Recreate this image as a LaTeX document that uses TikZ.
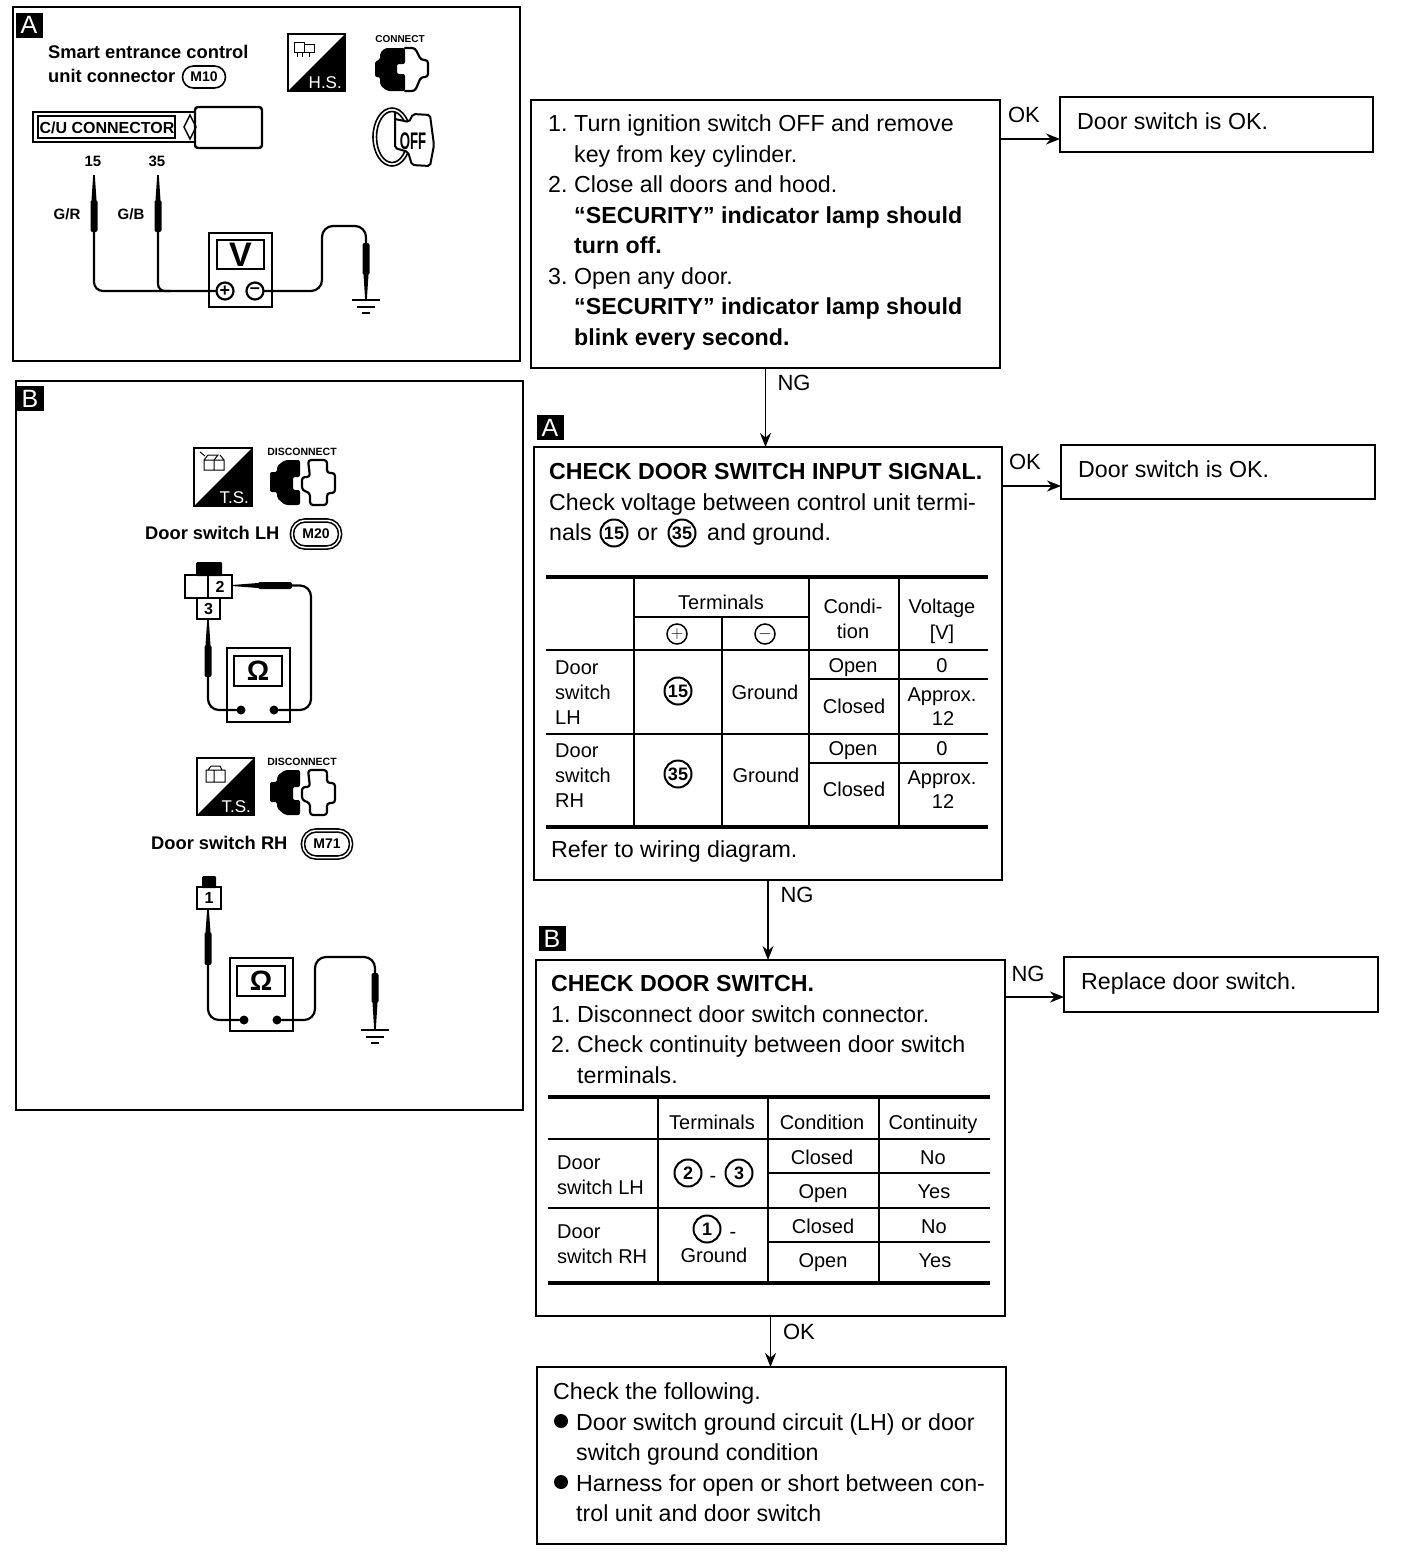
\documentclass[tikz,border=0pt]{standalone}
\usepackage{fontspec}
\setmainfont{Liberation Sans}
\usetikzlibrary{arrows.meta, positioning}
\newcommand{\sz}[1]{\fontsize{#1}{30.5}\selectfont}
\newcommand{\itm}[1]{\makebox[26pt][l]{#1}}
% Pattern icons: half-black connector faces
\newcommand{\connface}[3]{%
  \begin{scope}[shift={(#1,#2)}]
    \fill[rounded corners=2] (5,13) -- (5,6) -- (10,1) -- (30,1) -- (30,17) -- (22,17) -- (22,27) -- (30,27) -- (30,44) -- (12,44) -- (5,38) -- (5,30) -- (0,30) -- (0,14) -- cycle;
    \draw[wire, rounded corners=3] (30,1) -- (40,1) -- (46,13) -- (53,13) -- (53,30) -- (46,30) -- (40,44) -- (30,44);
    \node[font=\sz{10}\bfseries, inner sep=0] (#3) at (25,-8) {CONNECT};
  \end{scope}}
\newcommand{\discface}[3]{%
  \begin{scope}[shift={(#1,#2)}]
    \fill[rounded corners=2] (7,12) -- (7,6) -- (15,0) -- (30,0) -- (30,17) -- (23,17) -- (23,30) -- (30,30) -- (30,45) -- (15,45) -- (7,38) -- (7,32) -- (0,32) -- (0,12) -- cycle;
    \draw[wire, rounded corners=3] (38,0) -- (57,0) -- (57,13) -- (65,13) -- (65,33) -- (57,33) -- (57,45) -- (40,45) -- (40,33) -- (32,30) -- (32,17) -- (40,17) -- cycle;
    \node[font=\sz{10.5}\bfseries, inner sep=0] (#3) at (32,-8) {DISCONNECT};
  \end{scope}}
% Square badge, black lower right half
\newcommand{\badge}[5]{%
  \begin{scope}[shift={(#1,#2)}]
    \draw[line width=1.5] (0,0) rectangle (#3,#3);
    \fill (#3,0) -- (#3,#3) -- (0,#3) -- cycle;
    \node[font=\sz{17}, text=white, inner sep=0, anchor=south east] (#5) at (#3-3,#3-2) {#4};
  \end{scope}}
\newcommand{\probev}[5]{% name, x, end of tip, body end at tip, other body end
  \fill (#2-0.8,#3) -- (#2+0.8,#3) -- (#2+2.5,#4) -- (#2-2.5,#4) -- cycle;
  \node[probe, minimum height={abs(#5-#4)}] (#1) at (#2,#4/2+#5/2) {};}
\newcommand{\groundv}[2]{%
  \draw[line width=2.8] (#1-14,#2) -- (#1+14,#2);
  \draw[line width=2.8] (#1-9,#2+7) -- (#1+9,#2+7);
  \draw[line width=2.8] (#1-4,#2+13) -- (#1+4,#2+13);}
\tikzset{
  wire/.style={line width=2.2, line cap=round, line join=round},
  flowbox/.style={draw, line width=2.4, anchor=north west, inner sep=0, outer sep=0},
  paneltag/.style={fill=black, text=white, font=\sz{25}, inner sep=0, minimum width=27, minimum height=25},
  steptext/.style={anchor=north west, align=left, inner sep=0, font=\sz{23.2}},
  cell/.style={inner sep=0, font=\sz{20}, text height=14.5, text depth=0pt},
  lbl/.style={inner sep=0, font=\sz{22}},
  termno/.style={draw, circle, line width=2, inner sep=0, minimum size=27, font=\sz{18}\bfseries},
  thickrule/.style={line width=4},
  thinrule/.style={line width=2.2},
  meter/.style={draw, line width=2.2, inner sep=0, outer sep=0},
  probe/.style={fill=black, rounded corners=2, inner sep=0, minimum width=7},
  termdot/.style={fill=black, circle, inner sep=0, minimum size=9},
  pmsign/.style={draw, circle, line width=2.2, inner sep=0, minimum size=17, font=\sz{18}\bfseries},
  pill/.style={draw, line width=1.6, rounded corners=11, inner sep=0, font=\sz{14}\bfseries},
  panelhead/.style={inner sep=0, anchor=west, font=\sz{18.3}\bfseries},
  arr/.style={-{Stealth[length=14, width=11]}, line width=1.8},
}
\begin{document}
\begin{tikzpicture}[x=1pt, y=-1pt]
  \useasboundingbox (0,0) rectangle (1408,1558);
  % Flow boxes
  \node[flowbox, minimum width=469, minimum height=268] (checkStart) at (531,100) {};
  \node[flowbox, minimum width=313, minimum height=55] (okStart) at (1060,97) {};
  \node[flowbox, minimum width=468, minimum height=433] (checkSignal) at (534,447) {};
  \node[flowbox, minimum width=314, minimum height=54] (okSignal) at (1061,445) {};
  \node[flowbox, minimum width=469, minimum height=356] (checkSwitch) at (536,960) {};
  \node[flowbox, minimum width=314, minimum height=55] (replace) at (1064,957) {};
  \node[flowbox, minimum width=469, minimum height=177] (following) at (537,1367) {};
  \node[paneltag] (tagA) at (550,427.5) {A};
  \node[paneltag] (tagB) at (552,938.5) {B};
  % Arrows
  \coordinate (rowStart) at (1030,139);
  \coordinate (rowSignal) at (1030,486);
  \coordinate (rowSwitch) at (1030,997);
  \draw[arr] (checkStart.east |- rowStart) -- (okStart.west |- rowStart);
  \draw[arr] (checkSignal.east |- rowSignal) -- (okSignal.west |- rowSignal);
  \draw[arr] (checkSwitch.east |- rowSwitch) -- (replace.west |- rowSwitch);
  \draw[arr] (checkStart.south) -- (checkStart.south |- checkSignal.north);
  \draw[arr] (checkSignal.south) -- (checkSignal.south |- checkSwitch.north);
  \draw[arr] (checkSwitch.south) -- (checkSwitch.south |- following.north);
  \node[lbl] (okLa) at (1024,115) {OK};
  \node[lbl] (ngLa) at (794,383) {NG};
  \node[lbl] (okLb) at (1025,462) {OK};
  \node[lbl] (ngLb) at (797,895) {NG};
  \node[lbl] (ngLc) at (1028,974) {NG};
  \node[lbl] (okLc) at (799,1332) {OK};
  % Box texts
  \node[steptext] (txtStart) at (548,110) {\strut\itm{1.}Turn ignition switch OFF and remove\\
    \hspace*{26pt}key from key cylinder.\\
    \itm{2.}Close all doors and hood.\\
    \hspace*{26pt}\textbf{“SECURITY” indicator lamp should}\\
    \hspace*{26pt}\textbf{turn off.}\\
    \itm{3.}Open any door.\\
    \hspace*{26pt}\textbf{“SECURITY” indicator lamp should}\\
    \hspace*{26pt}\textbf{blink every second.}};
  \node[steptext] (txtOkA) at (1077,108) {\strut Door switch is OK.};
  \node[steptext] (txtOkB) at (1078,456) {\strut Door switch is OK.};
  \node[steptext] (txtReplace) at (1081,968) {\strut Replace door switch.};
  \node[steptext] (txtSignal) at (549,458) {\strut\textbf{CHECK DOOR SWITCH INPUT SIGNAL.}\\
    Check voltage between control unit termi-};
  \node[steptext] (txtNals) at (549,519) {\strut nals};
  \node[termno] (no15a) at (614,533) {15};
  \node[steptext] (txtOr) at (637,519) {\strut or};
  \node[termno] (no35a) at (682,533) {35};
  \node[steptext] (txtGround) at (707,519) {\strut and ground.};
  \node[steptext] (txtRefer) at (551,836) {\strut Refer to wiring diagram.};
  \node[steptext] (txtSwitch) at (551,970) {\strut\textbf{CHECK DOOR SWITCH.}\\
    \itm{1.}Disconnect door switch connector.\\
    \itm{2.}Check continuity between door switch\\
    \hspace*{26pt}terminals.};
  \node[steptext] (txtFollow) at (553,1378) {\strut Check the following.\\
    \hspace*{23pt}Door switch ground circuit (LH) or door\\
    \hspace*{23pt}switch ground condition\\
    \hspace*{23pt}Harness for open or short between con-\\
    \hspace*{23pt}trol unit and door switch};
  \node[fill=black, circle, inner sep=0, minimum size=14] (bulletA) at (561,1421) {};
  \node[fill=black, circle, inner sep=0, minimum size=14] (bulletB) at (561,1482) {};
  % Voltage table
  \draw[thickrule] (546,577) -- (988,577);
  \draw[thickrule] (546,827) -- (988,827);
  \draw[thinrule] (546,650) -- (988,650);
  \draw[thinrule] (546,734) -- (988,734);
  \draw[thinrule] (634,617) -- (809,617);
  \draw[thinrule] (809,679) -- (988,679);
  \draw[thinrule] (809,763) -- (988,763);
  \draw[thinrule] (634,577) -- (634,827);
  \draw[thinrule] (722,617) -- (722,827);
  \draw[thinrule] (809,577) -- (809,827);
  \draw[thinrule] (899,577) -- (899,827);
  \foreach \x/\y/\t in {721/602/Terminals, 853/606/Condi-, 853/631/tion, 942/606/Voltage, 942/632/[V],
      765/692/Ground, 853/665/Open, 942/665/0, 854/706/Closed, 942/694/Approx., 943/718/12,
      766/775/Ground, 853/748/Open, 942/748/0, 854/789/Closed, 942/777/Approx., 943/801/12}
    \node[cell] at (\x,\y) {\t};
  \foreach \y/\t in {667/Door, 692/switch, 717/LH, 750/Door, 775/switch, 800/RH}
    \node[cell, anchor=west] at (555,\y) {\t};
  \node[pmsign, minimum size=20, line width=1.5, font=\sz{18}] (plusHead) at (677,634) {$+$};
  \node[pmsign, minimum size=20, line width=1.5, font=\sz{18}] (minusHead) at (765,634) {$-$};
  \node[termno] (no15b) at (678,691) {15};
  \node[termno] (no35b) at (678,774) {35};
  % Continuity table
  \draw[thickrule] (548,1097) -- (990,1097);
  \draw[thickrule] (548,1283) -- (990,1283);
  \draw[thinrule] (548,1139) -- (990,1139);
  \draw[thinrule] (548,1208) -- (990,1208);
  \draw[thinrule] (768,1173) -- (990,1173);
  \draw[thinrule] (768,1242) -- (990,1242);
  \draw[thinrule] (658,1097) -- (658,1283);
  \draw[thinrule] (768,1097) -- (768,1283);
  \draw[thinrule] (879,1097) -- (879,1283);
  \foreach \x/\y/\t in {712/1122/Terminals, 822/1122/Condition, 933/1122/Continuity,
      822/1157/Closed, 933/1157/No, 823/1191/Open, 934/1191/Yes,
      823/1226/Closed, 934/1226/No, 823/1260/Open, 935/1260/Yes, 714/1255/Ground}
    \node[cell] at (\x,\y) {\t};
  \foreach \y/\t in {1162/Door, 1187/switch LH, 1231/Door, 1256/switch RH}
    \node[cell, anchor=west] at (557,\y) {\t};
  \node[termno] (no2) at (688,1173) {2};
  \node[cell] (dashA) at (713,1175) {-};
  \node[termno] (no3) at (739,1173) {3};
  \node[termno] (no1) at (707,1229) {1};
  \node[cell] (dashB) at (733,1231) {-};
  % Panel A
  \node[flowbox, line width=2, minimum width=507, minimum height=354] (panelA) at (13,7) {};
  \node[paneltag] (tagPanelA) at (29,25) {A};
  \node[panelhead] (headA) at (48,52) {Smart entrance control};
  \node[panelhead] (headB) at (48,76) {unit connector};
  \node[pill, minimum width=43, minimum height=22] (pillM10) at (204,77) {M10};
  \badge{288}{34}{57}{H.S.}{badgeHS}
  \draw[line width=1] (294,42) rectangle (304,52) (304,44) rectangle (314,52) (297,52) -- (297,57) (302,52) -- (302,57) (309,52) -- (309,57);
  \connface{375}{47}{txtConnect}
  % C/U connector
  \node[flowbox, minimum width=165, minimum height=30] (cuBody) at (33,112) {};
  \node[flowbox, rounded corners=3, minimum width=67, minimum height=41, fill=white] (cuHead) at (195,107) {};
  \node[flowbox, line width=1.5, minimum width=137, minimum height=22] (cuLabel) at (38,116) {};
  \node[inner sep=0, font=\sz{16}\bfseries] (txtCu) at (107,127.5) {C/U CONNECTOR};
  \draw[line width=1.5] (190,115) -- (196,127) -- (190,139) -- (184,127) -- cycle;
  % Ignition key
  \draw[line width=1.6] (392,137) ellipse (19 and 29);
  \draw[line width=1.6] (392,137) ellipse (15.5 and 25.5);
  \draw[line width=2, fill=white, rounded corners=2] (395,112) -- (395,148) -- (408,152) -- (412,165) -- (430,166) -- (434,145) -- (430,115) -- (413,114) -- (409,122) -- (395,119);
  \node[inner sep=0, font=\sz{24}\bfseries, xscale=0.55] (txtOff) at (413,141) {OFF};
  % Voltage check
  \node[lbl, font=\sz{15}\bfseries] (no15) at (93,161) {15};
  \node[lbl, font=\sz{15}\bfseries] (no35) at (157,161) {35};
  \node[lbl, font=\sz{15}\bfseries] (txtGR) at (67,214) {G/R};
  \node[lbl, font=\sz{15}\bfseries] (txtGB) at (131,214) {G/B};
  \probev{probeGR}{94}{175}{200}{232}
  \probev{probeGB}{158}{175}{200}{232}
  \probev{probeGndA}{366}{300}{275}{243}
  \node[meter, anchor=north west, minimum width=63, minimum height=74] (meterA) at (209,233) {};
  \node[meter, anchor=north west, minimum width=47, minimum height=29, font=\sz{34}\bfseries] (screenA) at (217,240) {V};
  \node[pmsign] (plusA) at (225,291) {+};
  \node[pmsign] (minusA) at (255,291) {–};
  \draw[wire, rounded corners=9] (probeGR.south) |- (plusA.west);
  \draw[wire, rounded corners=7] (probeGB.south) -- (158,291) -- (170,291);
  \draw[wire, rounded corners=11] (minusA.east) -- (322,291) -- (322,226) -- (366,226) -- (probeGndA.north);
  \groundv{366}{300}
  % Panel B
  \node[flowbox, line width=2, minimum width=507, minimum height=729] (panelB) at (16,381) {};
  \node[paneltag] (tagPanelB) at (30,398.5) {B};
  % Door switch LH
  \badge{194}{448}{58}{T.S.}{badgeLH}
  \draw[line width=1] (204,460) rectangle (214,470) (214,460) rectangle (224,470) (204,460) -- (208,455) -- (218,455) -- (214,460) (224,460) -- (220,455) (200,452) -- (205,456);
  \discface{270}{460}{txtDiscLH}
  \node[panelhead] (doorLH) at (145,533) {Door switch LH};
  \node[pill, double, double distance=1.5, minimum width=48, minimum height=27, rounded corners=13] (pillM20) at (316,534) {M20};
  \node[fill=black, anchor=north west, inner sep=0, minimum width=26, minimum height=14, rounded corners=1] (capLH) at (196,562) {};
  \node[meter, anchor=north west, minimum width=23, minimum height=23] (slotBlank) at (185,575) {};
  \node[meter, anchor=north west, minimum width=24, minimum height=23, font=\sz{16}\bfseries] (slotTwo) at (208,575) {2};
  \node[meter, anchor=north west, minimum width=23, minimum height=21, font=\sz{16}\bfseries] (slotThree) at (197,598) {3};
  \fill (207.3,619) -- (208.7,619) -- (210.5,645) -- (205.5,645) -- cycle;
  \node[probe, minimum height=32] (probeThree) at (208,661) {};
  \fill (232,585) -- (232,586) -- (258,588) -- (258,583) -- cycle;
  \node[probe, minimum height=7, minimum width=34] (probeTwo) at (275,585.5) {};
  \node[meter, anchor=north west, minimum width=63, minimum height=74] (meterLH) at (227,648) {};
  \node[meter, anchor=north west, minimum width=48, minimum height=30, font=\sz{28}\bfseries] (screenLH) at (234,656) {Ω};
  \node[termdot] (dotLHa) at (241,710) {};
  \node[termdot] (dotLHb) at (274,710) {};
  \draw[wire, rounded corners=11] (probeThree.south) |- (dotLHa);
  \draw[wire, rounded corners=11] (probeTwo.east) -- (311,585.5) |- (dotLHb);
  % Door switch RH
  \badge{197}{758}{57}{T.S.}{badgeRH}
  \draw[line width=1] (206,770) rectangle (214,782) (214,770) rectangle (225,782) (208,770) -- (211,766) -- (220,766) -- (222,770);
  \discface{270}{770}{txtDiscRH}
  \node[panelhead] (doorRH) at (151,843) {Door switch RH};
  \node[pill, double, double distance=1.5, minimum width=48, minimum height=27, rounded corners=13] (pillM71) at (327,844) {M71};
  \node[fill=black, anchor=north west, inner sep=0, minimum width=14, minimum height=12, rounded corners=1] (capRH) at (202,876) {};
  \node[meter, anchor=north west, minimum width=24, minimum height=22, font=\sz{16}\bfseries] (slotOne) at (197,887) {1};
  \probev{probeOne}{208}{909}{932}{965}
  \probev{probeGndB}{375}{1030}{1003}{973}
  \node[meter, anchor=north west, minimum width=63, minimum height=73] (meterRH) at (230,958) {};
  \node[meter, anchor=north west, minimum width=48, minimum height=30, font=\sz{28}\bfseries] (screenRH) at (237,966) {Ω};
  \node[termdot] (dotRHa) at (244,1020) {};
  \node[termdot] (dotRHb) at (277,1020) {};
  \draw[wire, rounded corners=11] (probeOne.south) |- (dotRHa);
  \draw[wire, rounded corners=11] (dotRHb) -- (315,1020) -- (315,957) -- (375,957) -- (probeGndB.north);
  \groundv{375}{1030}
\end{tikzpicture}
\end{document}
